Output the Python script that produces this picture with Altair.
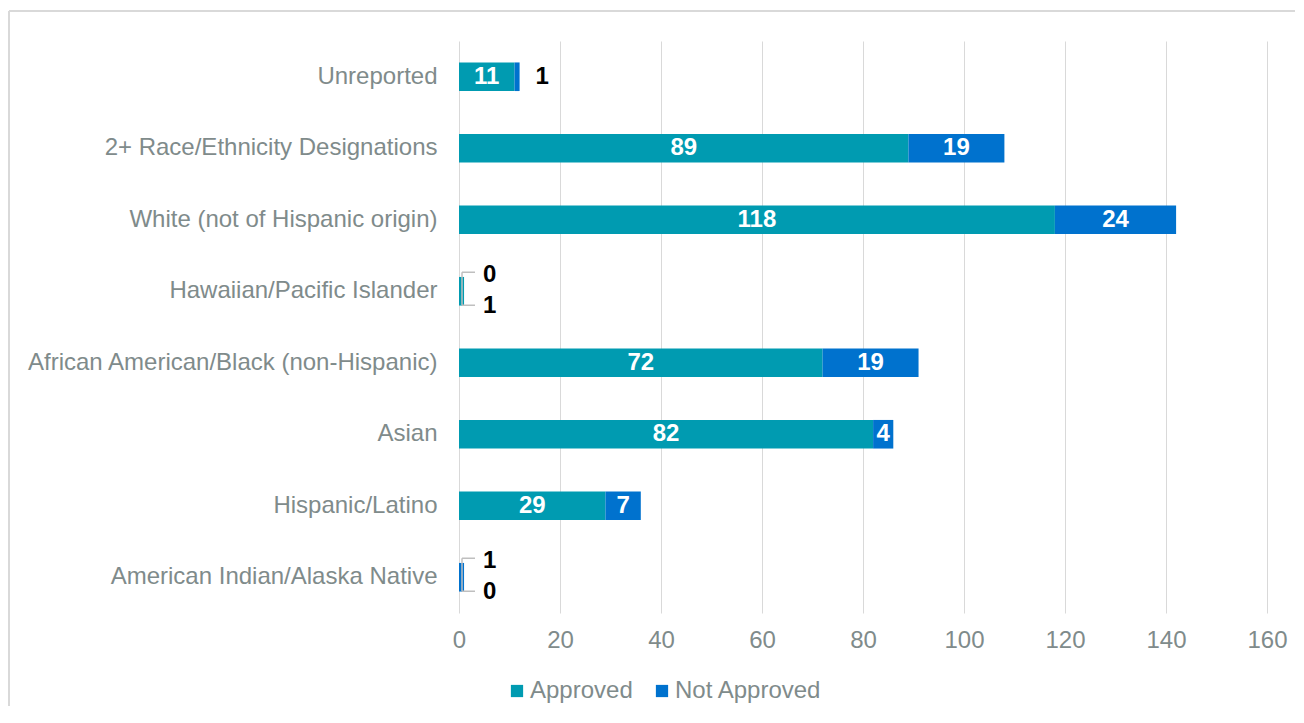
import altair as alt
import pandas as pd

categories = [
    "Unreported",
    "2+ Race/Ethnicity Designations",
    "White (not of Hispanic origin)",
    "Hawaiian/Pacific Islander",
    "African American/Black (non-Hispanic)",
    "Asian",
    "Hispanic/Latino",
    "American Indian/Alaska Native",
]
approved = [11, 89, 118, 1, 72, 82, 29, 0]
not_approved = [1, 19, 24, 0, 19, 4, 7, 1]
series = ["Approved", "Not Approved"]
colors = ["#009BB1", "#0072CE"]
x_ticks = [0, 20, 40, 60, 80, 100, 120, 140, 160]

GREY = "#7F8B8B"
FONT = "Liberation Sans"
LFS = 24   # axis / legend label size
DFS = 24   # data label size

rows = []
for c, a, n in zip(categories, approved, not_approved):
    total = a + n
    start = 0
    for s, v in zip(series, [a, n]):
        lo, hi = start, start + v
        if total <= 1:
            kind = "upper" if s == "Not Approved" else "lower"
        elif v >= 3:
            kind = "inside"
        else:
            kind = "outside"
        rows.append(dict(cat=c, series=s, value=v, lo=lo, hi=hi,
                         mid=(lo + hi) / 2, kind=kind, zero=0))
        start = hi
df = pd.DataFrame(rows)
callout_cats = pd.DataFrame(
    [dict(cat=c, zero=0) for c, a, n in zip(categories, approved, not_approved) if a + n <= 1]
)

yscale = alt.Scale(domain=categories, paddingInner=0.6, paddingOuter=0.3)
xscale = alt.Scale(domain=[0, 160], nice=False)

y_axis = alt.Axis(domain=False, ticks=False, labelFontSize=LFS, labelColor=GREY,
                  labelFont=FONT, labelPadding=22, labelLimit=600, title=None, grid=False)
x_axis = alt.Axis(values=x_ticks, domain=False, ticks=False, labelFontSize=LFS,
                  labelColor=GREY, labelFont=FONT, labelPadding=15, title=None,
                  labelFlush=False, labelOverlap=False,
                  grid=True, gridColor="#D9D9D9", gridWidth=1)

Y = alt.Y("cat:N", scale=yscale, sort=categories, axis=y_axis)

base = alt.Chart(df)

bars = base.mark_bar().encode(
    x=alt.X("lo:Q", scale=xscale, axis=x_axis),
    x2="hi:Q",
    y=Y,
    color=alt.Color(
        "series:N",
        scale=alt.Scale(domain=series, range=colors),
        legend=alt.Legend(
            orient="none", legendX=46, legendY=638, direction="horizontal",
            title=None, symbolType="square", symbolSize=150, symbolStrokeWidth=0,
            labelFontSize=LFS, labelColor=GREY, labelFont=FONT, columnPadding=17,
            labelOffset=1, padding=0,
        ),
    ),
)

tx = dict(fontWeight="bold", fontSize=DFS, font=FONT, baseline="middle")

inside = base.transform_filter(alt.datum.kind == "inside").mark_text(
    color="white", **tx
).encode(x=alt.X("mid:Q", scale=xscale, axis=x_axis), y=Y, text="value:Q")

outside = base.transform_filter(alt.datum.kind == "outside").mark_text(
    color="black", align="left", dx=16, **tx
).encode(x=alt.X("hi:Q", scale=xscale, axis=x_axis), y=Y, text="value:Q")

upper = base.transform_filter(alt.datum.kind == "upper").mark_text(
    color="black", align="left", dx=24, dy=-16, **tx
).encode(x=alt.X("zero:Q", scale=xscale, axis=x_axis), y=Y, text="value:Q")

lower = base.transform_filter(alt.datum.kind == "lower").mark_text(
    color="black", align="left", dx=24, dy=15, **tx
).encode(x=alt.X("zero:Q", scale=xscale, axis=x_axis), y=Y, text="value:Q")

cbase = alt.Chart(callout_cats)
rule_top = cbase.mark_rule(color="#BFBFBF", strokeWidth=1.5, xOffset=3, x2Offset=16,
                           yOffset=-19, y2Offset=-19).encode(
    x=alt.X("zero:Q", scale=xscale, axis=x_axis), x2="zero:Q", y=Y)
rule_bot = cbase.mark_rule(color="#BFBFBF", strokeWidth=1.5, xOffset=3, x2Offset=16,
                           yOffset=14, y2Offset=14).encode(
    x=alt.X("zero:Q", scale=xscale, axis=x_axis), x2="zero:Q", y=Y)
rule_vert = cbase.mark_rule(color="#BFBFBF", strokeWidth=1.5, xOffset=3, x2Offset=3,
                            yOffset=-19, y2Offset=14).encode(
    x=alt.X("zero:Q", scale=xscale, axis=x_axis), y=Y, y2="cat:N")

one = alt.Chart(pd.DataFrame({"a": [0]}))
frame_top = one.mark_rule(color="#D9D9D9", strokeWidth=2).encode(
    x=alt.value(-450), x2=alt.value(836), y=alt.value(-30))
frame_left = one.mark_rule(color="#D9D9D9", strokeWidth=2).encode(
    x=alt.value(-450), y=alt.value(-30), y2=alt.value(665))

chart = alt.layer(frame_top, frame_left, bars, inside, outside, upper, lower,
                  rule_top, rule_bot, rule_vert).properties(
    width=808, height=572, background="white",
    padding={"left": 0, "top": 2, "right": 0, "bottom": 0}
).configure_view(stroke="transparent", strokeWidth=0)

chart.save("out.html", embed_options={"renderer": "svg", "actions": False})
